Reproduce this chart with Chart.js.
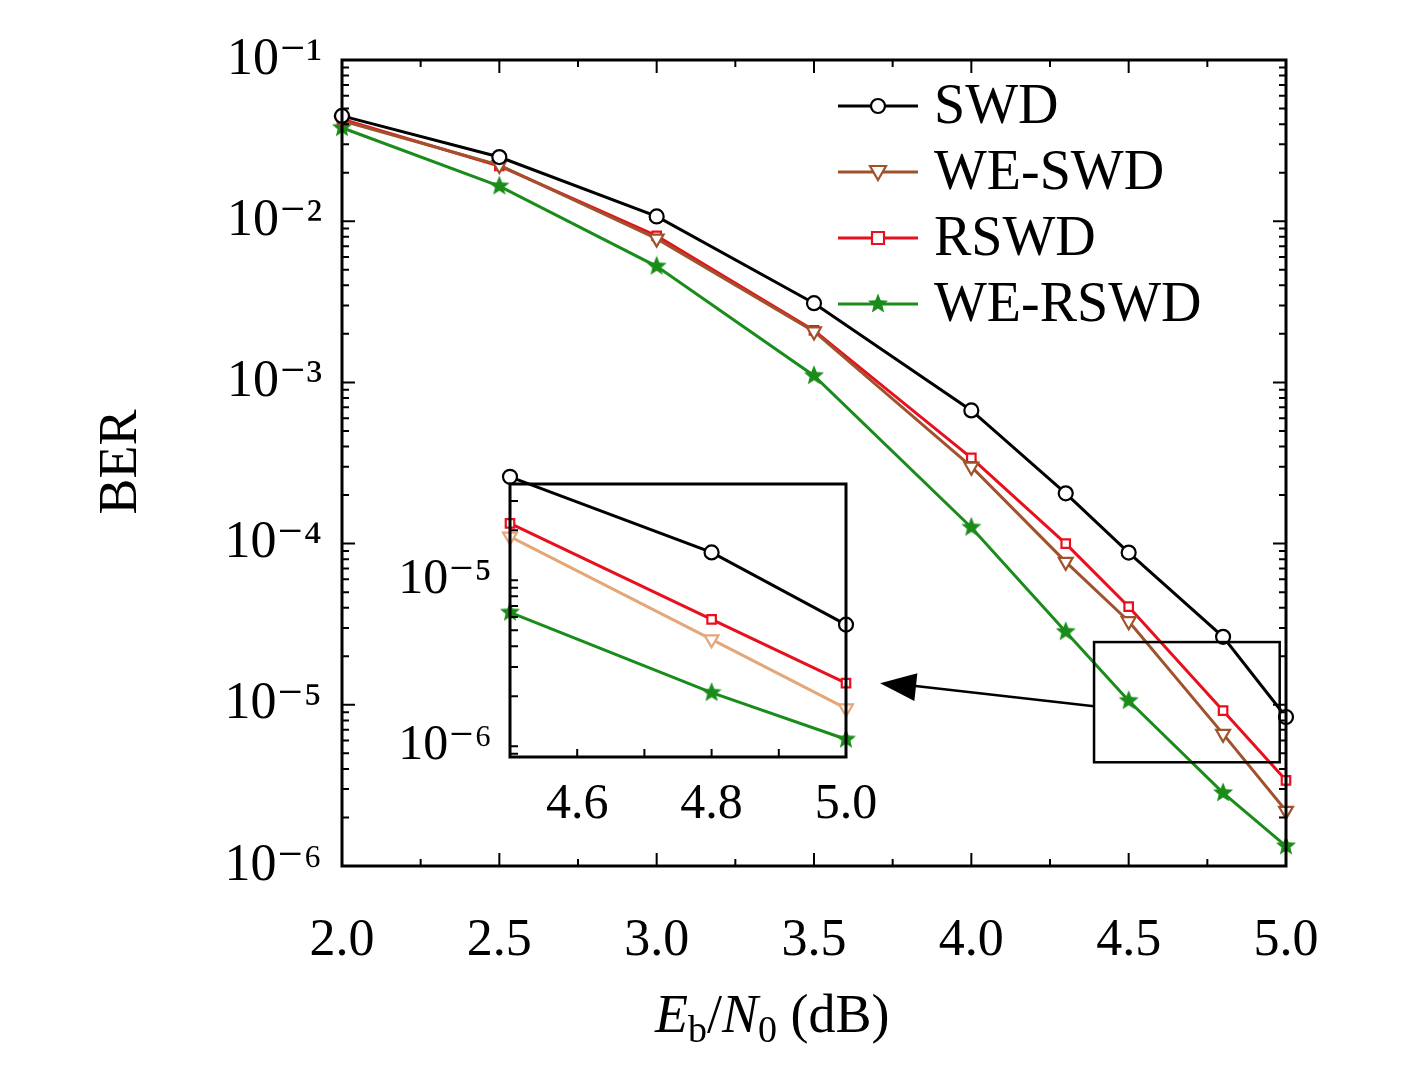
<!DOCTYPE html>
<html><head><meta charset="utf-8">
<script src="https://cdn.jsdelivr.net/npm/chart.js@4"></script>
<style>
html,body{margin:0;padding:0;background:#fff;}
#wrap{position:relative;width:1417px;height:1091px;}
#main{position:absolute;left:0;top:0;}
#inset{position:absolute;left:370px;top:444px;}
</style></head><body>
<div id="wrap"><canvas id="main" width="1417" height="1091"></canvas><canvas id="inset" width="530" height="386"></canvas></div>
<script>
const ebn0 = [2.0, 2.5, 3.0, 3.5, 4.0, 4.3, 4.5, 4.8, 5.0];
const swd    = [4.5e-2, 2.5e-2, 1.07e-2, 3.1e-3, 6.7e-4, 2.05e-4, 8.8e-5, 2.64e-5, 8.4e-6];
const weSwd  = [4.2e-2, 2.23e-2, 7.8e-3, 2.07e-3, 3.0e-4, 7.7e-5, 3.3e-5, 6.6e-6, 2.2e-6];
const rswd   = [4.3e-2, 2.2e-2, 8.1e-3, 2.1e-3, 3.4e-4, 1.0e-4, 4.06e-5, 9.2e-6, 3.4e-6];
const weRswd = [3.8e-2, 1.65e-2, 5.25e-3, 1.1e-3, 1.26e-4, 2.84e-5, 1.06e-5, 2.84e-6, 1.33e-6];
const insetX = [4.5, 4.8, 5.0];
const insetSwd    = [4.2e-5, 1.47e-5, 5.4e-6];
const insetWeSwd  = [1.83e-5, 4.4e-6, 1.69e-6];
const insetRswd   = [2.2e-5, 5.8e-6, 2.4e-6];
const insetWeRswd = [6.4e-6, 2.1e-6, 1.1e-6];
const xTickLabels = ['2.0','2.5','3.0','3.5','4.0','4.5','5.0'];
const seriesNames = ['SWD','WE-SWD','RSWD','WE-RSWD'];
const sup = {'-':'⁻','0':'⁰','1':'¹','2':'²','3':'³','4':'⁴','5':'⁵','6':'⁶'};
const expLabel = v => '10' + String(Math.round(Math.log10(v))).split('').map(c=>sup[c]).join('');
const FONT = '"Liberation Serif", "DejaVu Serif", serif';
const C = {swd:'#000000', we:'#a0522d', weLight:'#e3a77a', r:'#e8101e', g:'#1a8c1a'};

function starImg(size, color){
  const c=document.createElement('canvas'); c.width=c.height=size;
  const x=c.getContext('2d'); const r=size/2, ri=r*0.42;
  x.beginPath();
  for(let i=0;i<10;i++){const a=-Math.PI/2+i*Math.PI/5; const rr=i%2?ri:r-0.5;
    x.lineTo(r+rr*Math.cos(a), r+rr*Math.sin(a));}
  x.closePath(); x.fillStyle=color; x.fill(); return c;
}
const star = starImg(22, C.g);

function mk(xs, ys, label, color, style, extra){
  return Object.assign({label, data: ys.map((y,i)=>({x:xs[i], y})), borderColor:color, backgroundColor:'rgba(0,0,0,0)',
    pointBorderColor:color, pointBackgroundColor:'#fff', pointStyle:style, pointRadius:7, pointBorderWidth:2.2, borderWidth:3, tension:0, clip:false}, extra||{});
}

function tickPlugin(opts){
  return {id:'ticks', afterDraw(ch){
    const ctx=ch.ctx, a=ch.chartArea, xs=ch.scales.x, ys=ch.scales.y;
    ctx.save(); ctx.strokeStyle='#000'; ctx.lineWidth=2;
    ctx.beginPath();
    for(let v=opts.xmin; v<=opts.xmax+1e-9; v+=opts.xminor){
      const px=xs.getPixelForValue(v);
      const isMaj = Math.abs(Math.round((v-opts.xmin)/opts.xmajor)*opts.xmajor-(v-opts.xmin))<1e-6;
      const L = isMaj?opts.maj:opts.min;
      ctx.moveTo(px,a.bottom); ctx.lineTo(px,a.bottom-L);
      if(opts.topRight){ctx.moveTo(px,a.top); ctx.lineTo(px,a.top+L);}
    }
    for(let e=-7;e<=0;e++){
      for(let m=1;m<10;m++){
        const v=m*Math.pow(10,e);
        if(v<ys.min*0.999||v>ys.max*1.001) continue;
        const py=ys.getPixelForValue(v); const L=m===1?opts.maj:opts.min;
        ctx.moveTo(a.left,py); ctx.lineTo(a.left+L,py);
        if(opts.topRight){ctx.moveTo(a.right,py); ctx.lineTo(a.right-L,py);}
      }
    }
    ctx.stroke();
    ctx.lineWidth=3; ctx.strokeRect(a.left,a.top,a.right-a.left,a.bottom-a.top);
    ctx.restore();
  }};
}

const mainExtras = {id:'extras', afterDraw(ch){
  const ctx=ch.ctx, xs=ch.scales.x, ys=ch.scales.y;
  ctx.save();
  ctx.fillStyle='#000';
  ctx.font='54px '+FONT; ctx.textAlign='center'; ctx.textBaseline='middle';
  ctx.save(); ctx.translate(122,462); ctx.rotate(-Math.PI/2); ctx.fillText('BER',0,0); ctx.restore();
  let x=655, y=1032; ctx.textAlign='left'; ctx.textBaseline='alphabetic';
  const parts=[['italic 54px '+FONT,'E',0],['38px '+FONT,'b',10],['54px '+FONT,'/',0],['italic 54px '+FONT,'N',0],['38px '+FONT,'0',10],['54px '+FONT,' (dB)',0]];
  for(const [f,t,dy] of parts){ctx.font=f; ctx.fillText(t,x,y+dy); x+=ctx.measureText(t).width;}
  const rows=[[C.swd,'circle'],[C.we,'tri'],[C.r,'rect'],[C.g,'star']];
  ctx.font='56px '+FONT; ctx.textBaseline='middle';
  rows.forEach((r,i)=>{
    const ly=106+i*66;
    ctx.strokeStyle=r[0]; ctx.lineWidth=3;
    ctx.beginPath(); ctx.moveTo(838,ly); ctx.lineTo(918,ly); ctx.stroke();
    ctx.lineWidth=2.2; ctx.beginPath();
    if(r[1]==='circle'){ctx.fillStyle='#fff'; ctx.arc(878,ly,7,0,2*Math.PI); ctx.fill(); ctx.stroke();}
    else if(r[1]==='tri'){ctx.fillStyle='#fff'; ctx.moveTo(870,ly-6);ctx.lineTo(886,ly-6);ctx.lineTo(878,ly+8);ctx.closePath();ctx.fill();ctx.stroke();}
    else if(r[1]==='rect'){ctx.fillStyle='#fff'; ctx.rect(872,ly-6,12,12); ctx.fill(); ctx.stroke();}
    else {ctx.drawImage(star,867,ly-11);}
    ctx.fillStyle='#000'; ctx.fillText(seriesNames[i],934,ly+2);
  });
  const bx0=xs.getPixelForValue(4.39), bx1=xs.getPixelForValue(4.98);
  const by0=ys.getPixelForValue(2.45e-5), by1=ys.getPixelForValue(4.4e-6);
  ctx.strokeStyle='#000'; ctx.lineWidth=2.5; ctx.strokeRect(bx0,by0,bx1-bx0,by1-by0);
  const sx=bx0, sy=ys.getPixelForValue(9.8e-6);
  const ex=xs.getPixelForValue(3.71), ey=ys.getPixelForValue(1.36e-5);
  ctx.beginPath(); ctx.moveTo(sx,sy); ctx.lineTo(ex+20,ey+1); ctx.stroke();
  const ang=Math.atan2(ey-sy,ex-sx);
  ctx.fillStyle='#000'; ctx.beginPath();
  ctx.moveTo(ex,ey);
  ctx.lineTo(ex-36*Math.cos(ang)+14*Math.sin(ang), ey-36*Math.sin(ang)-14*Math.cos(ang));
  ctx.lineTo(ex-36*Math.cos(ang)-14*Math.sin(ang), ey-36*Math.sin(ang)+14*Math.cos(ang));
  ctx.closePath(); ctx.fill();
  ctx.restore();
}};

const triOpts = {rotation:180, pointRadius:8};
new Chart(document.getElementById('main'), {
  type:'line',
  data:{datasets:[
    mk(ebn0, swd, seriesNames[0], C.swd, 'circle'),
    mk(ebn0, weSwd, seriesNames[1], C.we, 'triangle', triOpts),
    mk(ebn0, rswd, seriesNames[2], C.r, 'rect', {pointRadius:6}),
    mk(ebn0, weRswd, seriesNames[3], C.g, star, {})
  ]},
  options:{responsive:false, animation:false, devicePixelRatio:1,
    layout:{padding:{top:60,right:131,left:0,bottom:0}},
    plugins:{legend:{display:false}, tooltip:{enabled:false}},
    scales:{
      x:{type:'linear', min:2, max:5, grid:{display:false}, border:{display:false},
        afterBuildTicks:s=>{s.ticks=xTickLabels.map(t=>({value:parseFloat(t)}));},
        ticks:{font:{family:FONT,size:52}, color:'#000', padding:36, maxRotation:0, callback:v=>v.toFixed(1)},
        afterFit:s=>{s.height=225;}},
      y:{type:'logarithmic', min:1e-6, max:1e-1, grid:{display:false}, border:{display:false},
        afterBuildTicks:s=>{s.ticks=[-6,-5,-4,-3,-2,-1].map(e=>({value:Math.pow(10,e)}));},
        ticks:{font:{family:FONT,size:52}, color:'#000', padding:12, callback:v=>expLabel(v)},
        afterFit:s=>{s.width=342;}}
    }},
  plugins:[tickPlugin({xmin:2,xmax:5,xmajor:0.5,xminor:0.25,maj:13,min:7,topRight:true}), mainExtras]
});

new Chart(document.getElementById('inset'), {
  type:'line',
  data:{datasets:[
    mk(insetX, insetSwd, seriesNames[0], C.swd, 'circle'),
    mk(insetX, insetWeSwd, seriesNames[1], C.weLight, 'triangle', triOpts),
    mk(insetX, insetRswd, seriesNames[2], C.r, 'rect', {pointRadius:6}),
    mk(insetX, insetWeRswd, seriesNames[3], C.g, star, {})
  ]},
  options:{responsive:false, animation:false, devicePixelRatio:1,
    layout:{padding:{top:12,right:54,left:0,bottom:0}},
    plugins:{legend:{display:false}, tooltip:{enabled:false}},
    scales:{
      x:{type:'linear', min:4.5, max:5, grid:{display:false}, border:{display:false},
        afterBuildTicks:s=>{s.ticks=[4.6,4.8,5.0].map(v=>({value:v}));},
        ticks:{font:{family:FONT,size:50}, color:'#000', padding:10, maxRotation:0, callback:v=>v.toFixed(1)},
        afterFit:s=>{s.height=73;}},
      y:{type:'logarithmic', min:8.6e-7, max:3.8e-5, grid:{display:false}, border:{display:false},
        afterBuildTicks:s=>{s.ticks=[1e-6,1e-5].map(v=>({value:v}));},
        ticks:{font:{family:FONT,size:50}, color:'#000', padding:10, callback:v=>expLabel(v)},
        afterFit:s=>{s.width=140;}}
    }},
  plugins:[tickPlugin({xmin:4.5,xmax:5,xmajor:0.1,xminor:0.1,maj:8,min:8,topRight:false})]
});
</script>
</body></html>
